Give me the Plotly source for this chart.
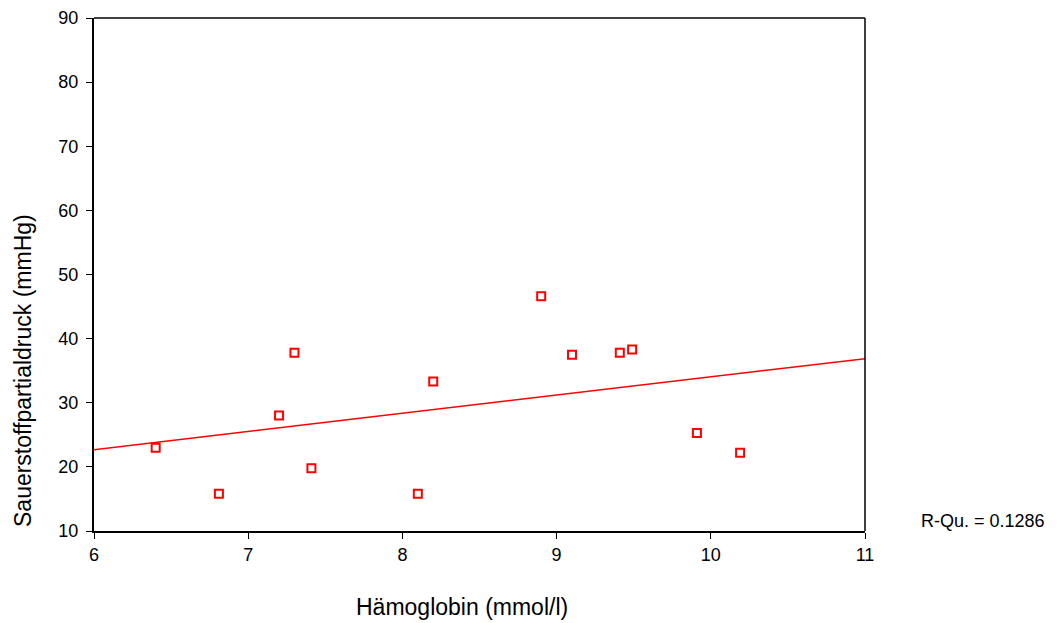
import numpy as np
import plotly.graph_objects as go

haemoglobin = [6.4, 6.81, 7.2, 7.3, 7.41, 8.1, 8.2, 8.9, 9.1, 9.41, 9.49, 9.91, 10.19]
po2 = [23.0, 15.8, 28.0, 37.8, 19.8, 15.8, 33.3, 46.6, 37.5, 37.8, 38.3, 25.3, 22.2]
x_ticks = [6, 7, 8, 9, 10, 11]
y_ticks = [10, 20, 30, 40, 50, 60, 70, 80, 90]
r2_label = "R-Qu. = 0.1286"

slope, intercept = np.polyfit(haemoglobin, po2, 1)
fit_x = [6, 11]
fit_y = [intercept + slope * v for v in fit_x]

fig = go.Figure()
fig.add_trace(go.Scatter(x=fit_x, y=fit_y, mode="lines",
                         line=dict(color="#ff0000", width=1.5), cliponaxis=False))
fig.add_trace(go.Scatter(x=haemoglobin, y=po2, mode="markers",
                         marker=dict(symbol="square-open", size=8, color="#ff0000",
                                     line=dict(width=2, color="#ff0000"))))

font = "Liberation Sans, Arial, sans-serif"
# body has an 8px margin in the page, so the figure is shifted by 8px
W, H = 1049, 615
L, R, T, B = 86, 192, 10, 92
pw = W - L - R
ph = H - T - B


def px(xabs):
    return (xabs - 8 - L) / pw


def py(yabs):
    return (H - B - (yabs - 8)) / ph


fig.update_layout(
    width=W, height=H,
    margin=dict(l=L, r=R, t=T, b=B, autoexpand=False),
    paper_bgcolor="white", plot_bgcolor="white",
    showlegend=False,
    font=dict(family=font, size=18, color="black"),
    xaxis=dict(range=[6, 11], tickvals=x_ticks, ticks="outside", ticklen=6, tickwidth=1,
               tickcolor="black", showgrid=False, zeroline=False, showline=True,
               linecolor="black", linewidth=2, mirror=False, tickfont=dict(size=18),
               automargin=False),
    yaxis=dict(range=[10, 90], tickvals=y_ticks, ticks="outside", ticklen=6, tickwidth=1,
               tickcolor="black", showgrid=False, zeroline=False, showline=True,
               linecolor="black", linewidth=2, mirror=False, tickfont=dict(size=18),
               automargin=False, ticklabelstandoff=4),
    shapes=[
        dict(type="line", xref="paper", yref="paper", x0=0, x1=1, y0=1, y1=1,
             line=dict(color="black", width=1.5)),
        dict(type="line", xref="paper", yref="paper", x0=1, x1=1, y0=0, y1=1,
             line=dict(color="black", width=1.5)),
    ],
    annotations=[
        dict(text="Hämoglobin (mmol/l)", xref="paper", yref="paper",
             x=px(462), y=py(607), showarrow=False,
             font=dict(size=23), xanchor="center", yanchor="middle"),
        dict(text="Sauerstoffpartialdruck (mmHg)", xref="paper", yref="paper",
             x=px(23), y=py(371), showarrow=False, textangle=-90,
             font=dict(size=23), xanchor="center", yanchor="middle"),
        dict(text=r2_label, xref="paper", yref="paper",
             x=px(983), y=py(521), showarrow=False,
             font=dict(size=18), xanchor="center", yanchor="middle"),
    ],
)
fig.write_html("out.html")
